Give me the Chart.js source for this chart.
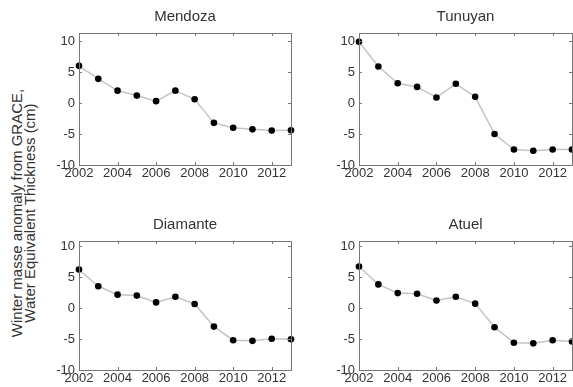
<!DOCTYPE html>
<html>
<head>
<meta charset="utf-8">
<script src="https://cdn.jsdelivr.net/npm/chart.js@4.4.0/dist/chart.umd.min.js"></script>
<style>
  html, body { margin: 0; padding: 0; background: #fff; overflow: hidden; }
  body { width: 573px; height: 387px; position: relative; font-family: Arial, "Liberation Sans", sans-serif; }
  canvas { position: absolute; }
  #ylabel {
    position: absolute; left: 23px; top: 213px; width: 300px;
    transform: translate(-50%, -50%) rotate(-90deg);
    text-align: center; font-size: 15px; line-height: 13px; color: #333;
    white-space: nowrap;
  }
</style>
</head>
<body>
<div id="ylabel">Winter masse anomaly from GRACE,<br>Water Equivalent Thickness (cm)</div>
<canvas id="c1" width="260" height="190" style="left:40px;top:0px"></canvas>
<canvas id="c2" width="260" height="190" style="left:320px;top:0px"></canvas>
<canvas id="c3" width="260" height="187" style="left:40px;top:208px"></canvas>
<canvas id="c4" width="260" height="187" style="left:320px;top:208px"></canvas>
<script>
// yearly winter anomaly values (cm)
const years = [2002, 2003, 2004, 2005, 2006, 2007, 2008, 2009, 2010, 2011, 2012, 2013];
const mendoza  = [6.0, 3.9, 2.0, 1.2, 0.3, 2.0, 0.6, -3.2, -4.0, -4.25, -4.45, -4.4];
const tunuyan  = [9.9, 5.9, 3.2, 2.6, 0.9, 3.1, 1.0, -5.0, -7.5, -7.7, -7.5, -7.5];
const diamante = [6.2, 3.5, 2.15, 2.0, 0.9, 1.8, 0.65, -3.0, -5.2, -5.3, -4.95, -5.05];
const atuel    = [6.7, 3.8, 2.4, 2.3, 1.2, 1.8, 0.7, -3.1, -5.6, -5.7, -5.2, -5.4];
const xTicks = [2002, 2004, 2006, 2008, 2010, 2012];
const yTicks = [-10, -5, 0, 5, 10];

const AXIS_COLOR = '#777';
const TEXT_COLOR = '#333';

// matlab-ish box with inward ticks on all four sides
const boxPlugin = {
  id: 'boxTicks',
  afterDraw(chart) {
    const { ctx, chartArea: a, scales } = chart;
    ctx.save();
    ctx.strokeStyle = AXIS_COLOR;
    ctx.lineWidth = 1;
    ctx.strokeRect(Math.round(a.left) + 0.5, Math.round(a.top) + 0.5,
      Math.round(a.right - a.left), Math.round(a.bottom - a.top));
    ctx.beginPath();
    const len = 3;
    scales.x.ticks.forEach(t => {
      const px = Math.round(scales.x.getPixelForValue(t.value)) + 0.5;
      ctx.moveTo(px, a.bottom); ctx.lineTo(px, a.bottom - len);
      ctx.moveTo(px, a.top); ctx.lineTo(px, a.top + len);
    });
    scales.y.ticks.forEach(t => {
      const py = Math.round(scales.y.getPixelForValue(t.value)) + 0.5;
      ctx.moveTo(a.left, py); ctx.lineTo(a.left + len, py);
      ctx.moveTo(a.right, py); ctx.lineTo(a.right - len, py);
    });
    ctx.stroke();
    ctx.restore();
  }
};

function makeChart(id, title, values, yMax, padRight) {
  const ctx = document.getElementById(id).getContext('2d');
  return new Chart(ctx, {
    type: 'line',
    data: {
      datasets: [{
        data: years.map((y, i) => ({ x: y, y: values[i] })),
        borderColor: '#c4c4c4',
        borderWidth: 1.5,
        pointRadius: 3.3,
        pointBackgroundColor: '#000',
        pointBorderWidth: 0,
        tension: 0,
        clip: false
      }]
    },
    options: {
      responsive: false,
      devicePixelRatio: 1,
      animation: false,
      layout: { padding: { left: 0, right: padRight, top: 0, bottom: 0 } },
      plugins: {
        legend: { display: false },
        tooltip: { enabled: false },
        title: {
          display: true,
          text: title,
          fullSize: false,
          color: TEXT_COLOR,
          font: { family: 'Arial, "Liberation Sans", sans-serif', size: 15, weight: 'normal' },
          padding: { top: 8, bottom: 7 }
        }
      },
      scales: {
        x: {
          type: 'linear',
          min: 2002,
          max: 2013,
          afterBuildTicks: s => { s.ticks = xTicks.map(v => ({ value: v })); },
          afterFit: s => { s.height = 25; },
          grid: { display: false, drawTicks: false },
          border: { display: false },
          ticks: {
            padding: 1,
            maxRotation: 0,
            autoSkip: false,
            color: TEXT_COLOR,
            font: { family: 'Arial, "Liberation Sans", sans-serif', size: 13 },
            callback: v => String(v)
          }
        },
        y: {
          min: -10,
          max: yMax,
          afterBuildTicks: s => { s.ticks = yTicks.map(v => ({ value: v })); },
          afterFit: s => { s.width = 39; },
          grid: { display: false, drawTicks: false },
          border: { display: false },
          ticks: {
            padding: 4,
            color: TEXT_COLOR,
            font: { family: 'Arial, "Liberation Sans", sans-serif', size: 13 }
          }
        }
      }
    },
    plugins: [boxPlugin]
  });
}

makeChart('c1', 'Mendoza', mendoza, 11.3, 9);
makeChart('c2', 'Tunuyan', tunuyan, 11.3, 8);
makeChart('c3', 'Diamante', diamante, 10.8, 9);
makeChart('c4', 'Atuel', atuel, 10.8, 8);
</script>
</body>
</html>
